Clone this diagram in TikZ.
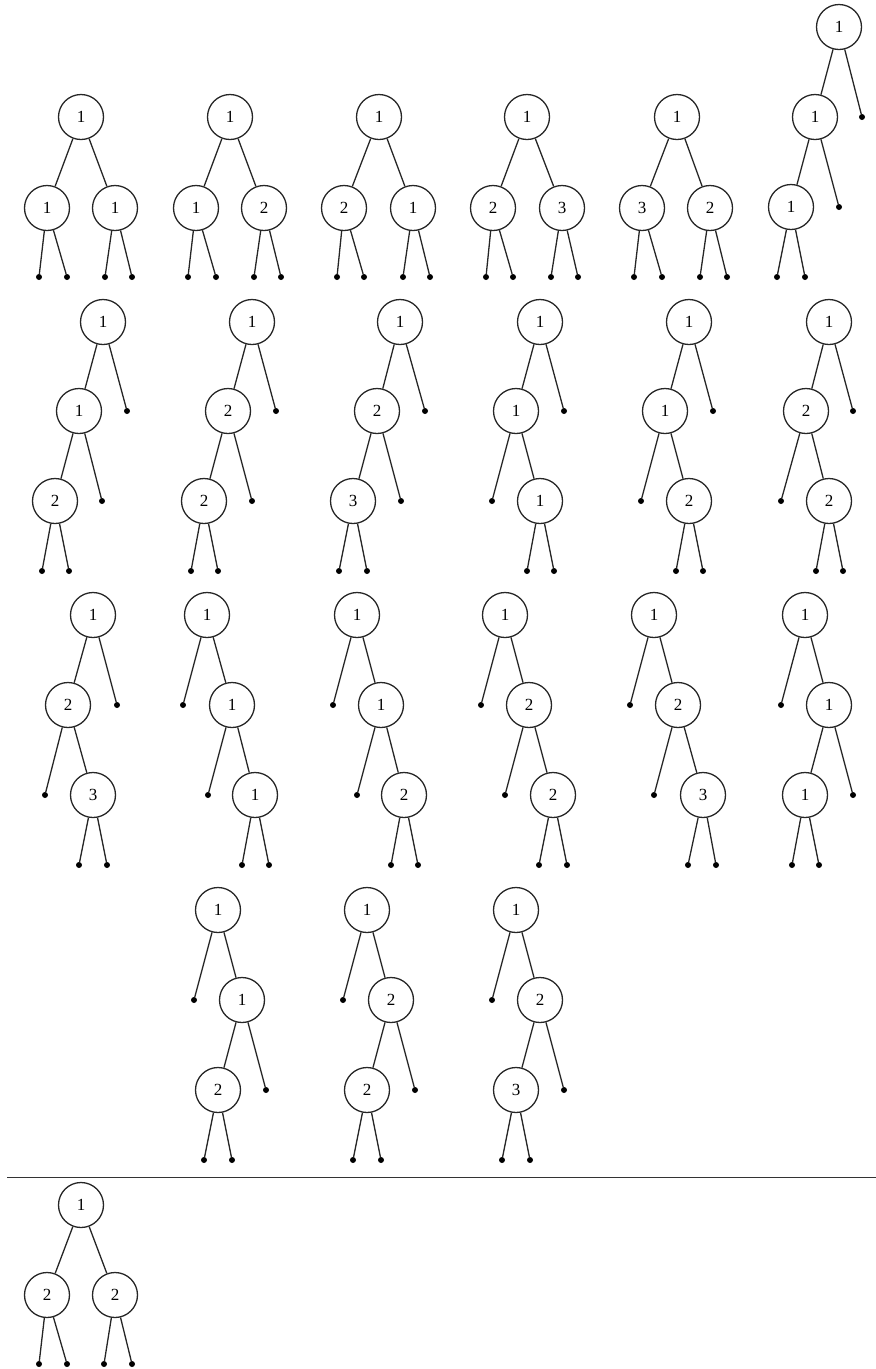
\documentclass[tikz,border=0pt]{standalone}
\usepackage{fontspec}
\setmainfont{Liberation Serif}
\begin{document}
\begin{tikzpicture}[x=1pt,y=-1pt,
  nd/.style={circle,draw=black!85,line width=1.3pt,minimum size=45pt,inner sep=0pt,font=\fontsize{17}{19}\selectfont},
  lf/.style={circle,fill=black,inner sep=0pt,minimum size=6pt},
  ed/.style={line width=1.3pt,draw=black!85}]
\useasboundingbox (0,0) rectangle (876,1369);
% ---------- Row 1 ----------
% tree 1
\node[nd] (t1r) at (81,117) {1};
\node[nd] (t1a) at (47,208) {1};
\node[nd] (t1b) at (115,208) {1};
\node[lf] (t1p) at (39,277) {};
\node[lf] (t1q) at (67,277) {};
\node[lf] (t1s) at (105,277) {};
\node[lf] (t1t) at (132,277) {};
\draw[ed] (t1r)--(t1a) (t1r)--(t1b) (t1a)--(t1p) (t1a)--(t1q) (t1b)--(t1s) (t1b)--(t1t);
% tree 2
\node[nd] (t2r) at (230,117) {1};
\node[nd] (t2a) at (196,208) {1};
\node[nd] (t2b) at (264,208) {2};
\node[lf] (t2p) at (188,277) {};
\node[lf] (t2q) at (216,277) {};
\node[lf] (t2s) at (254,277) {};
\node[lf] (t2t) at (281,277) {};
\draw[ed] (t2r)--(t2a) (t2r)--(t2b) (t2a)--(t2p) (t2a)--(t2q) (t2b)--(t2s) (t2b)--(t2t);
% tree 3
\node[nd] (t3r) at (379,117) {1};
\node[nd] (t3a) at (344,208) {2};
\node[nd] (t3b) at (413,208) {1};
\node[lf] (t3p) at (337,277) {};
\node[lf] (t3q) at (364,277) {};
\node[lf] (t3s) at (403,277) {};
\node[lf] (t3t) at (430,277) {};
\draw[ed] (t3r)--(t3a) (t3r)--(t3b) (t3a)--(t3p) (t3a)--(t3q) (t3b)--(t3s) (t3b)--(t3t);
% tree 4
\node[nd] (t4r) at (527,117) {1};
\node[nd] (t4a) at (493,208) {2};
\node[nd] (t4b) at (562,208) {3};
\node[lf] (t4p) at (486,277) {};
\node[lf] (t4q) at (513,277) {};
\node[lf] (t4s) at (551,277) {};
\node[lf] (t4t) at (578,277) {};
\draw[ed] (t4r)--(t4a) (t4r)--(t4b) (t4a)--(t4p) (t4a)--(t4q) (t4b)--(t4s) (t4b)--(t4t);
% tree 5
\node[nd] (t5r) at (677,117) {1};
\node[nd] (t5a) at (642,208) {3};
\node[nd] (t5b) at (710,208) {2};
\node[lf] (t5p) at (634,277) {};
\node[lf] (t5q) at (662,277) {};
\node[lf] (t5s) at (700,277) {};
\node[lf] (t5t) at (727,277) {};
\draw[ed] (t5r)--(t5a) (t5r)--(t5b) (t5a)--(t5p) (t5a)--(t5q) (t5b)--(t5s) (t5b)--(t5t);
% tree 6
\node[nd] (t6r) at (839,27) {1};
\node[nd] (t6a) at (815,117) {1};
\node[lf] (t6la) at (862,117) {};
\node[nd] (t6b) at (791,207) {1};
\node[lf] (t6lb) at (839,207) {};
\node[lf] (t6p) at (777,277) {};
\node[lf] (t6q) at (805,277) {};
\draw[ed] (t6r)--(t6a) (t6r)--(t6la) (t6a)--(t6b) (t6a)--(t6lb) (t6b)--(t6p) (t6b)--(t6q);
% ---------- Row 2 ----------
% tree 7
\node[nd] (t7r) at (103,322) {1};
\node[nd] (t7a) at (79,411) {1};
\node[lf] (t7la) at (127,411) {};
\node[nd] (t7b) at (55,501) {2};
\node[lf] (t7lb) at (102,501) {};
\node[lf] (t7p) at (42,571) {};
\node[lf] (t7q) at (69,571) {};
\draw[ed] (t7r)--(t7a) (t7r)--(t7la) (t7a)--(t7b) (t7a)--(t7lb) (t7b)--(t7p) (t7b)--(t7q);
% tree 8
\node[nd] (t8r) at (252,322) {1};
\node[nd] (t8a) at (228,411) {2};
\node[lf] (t8la) at (276,411) {};
\node[nd] (t8b) at (204,501) {2};
\node[lf] (t8lb) at (252,501) {};
\node[lf] (t8p) at (191,571) {};
\node[lf] (t8q) at (218,571) {};
\draw[ed] (t8r)--(t8a) (t8r)--(t8la) (t8a)--(t8b) (t8a)--(t8lb) (t8b)--(t8p) (t8b)--(t8q);
% tree 9
\node[nd] (t9r) at (400,322) {1};
\node[nd] (t9a) at (377,411) {2};
\node[lf] (t9la) at (425,411) {};
\node[nd] (t9b) at (353,501) {3};
\node[lf] (t9lb) at (401,501) {};
\node[lf] (t9p) at (339,571) {};
\node[lf] (t9q) at (367,571) {};
\draw[ed] (t9r)--(t9a) (t9r)--(t9la) (t9a)--(t9b) (t9a)--(t9lb) (t9b)--(t9p) (t9b)--(t9q);
% tree 10
\node[nd] (t10r) at (540,322) {1};
\node[nd] (t10a) at (516,411) {1};
\node[lf] (t10la) at (564,411) {};
\node[lf] (t10lb) at (492,501) {};
\node[nd] (t10b) at (540,501) {1};
\node[lf] (t10p) at (527,571) {};
\node[lf] (t10q) at (554,571) {};
\draw[ed] (t10r)--(t10a) (t10r)--(t10la) (t10a)--(t10lb) (t10a)--(t10b) (t10b)--(t10p) (t10b)--(t10q);
% tree 11
\node[nd] (t11r) at (689,322) {1};
\node[nd] (t11a) at (665,411) {1};
\node[lf] (t11la) at (713,411) {};
\node[lf] (t11lb) at (641,501) {};
\node[nd] (t11b) at (689,501) {2};
\node[lf] (t11p) at (676,571) {};
\node[lf] (t11q) at (703,571) {};
\draw[ed] (t11r)--(t11a) (t11r)--(t11la) (t11a)--(t11lb) (t11a)--(t11b) (t11b)--(t11p) (t11b)--(t11q);
% tree 12
\node[nd] (t12r) at (829,322) {1};
\node[nd] (t12a) at (806,411) {2};
\node[lf] (t12la) at (853,411) {};
\node[lf] (t12lb) at (781,501) {};
\node[nd] (t12b) at (829,501) {2};
\node[lf] (t12p) at (816,571) {};
\node[lf] (t12q) at (843,571) {};
\draw[ed] (t12r)--(t12a) (t12r)--(t12la) (t12a)--(t12lb) (t12a)--(t12b) (t12b)--(t12p) (t12b)--(t12q);
% ---------- Row 3 ----------
% tree 13
\node[nd] (t13r) at (93,615) {1};
\node[nd] (t13a) at (68,705) {2};
\node[lf] (t13la) at (117,705) {};
\node[lf] (t13lb) at (45,795) {};
\node[nd] (t13b) at (93,795) {3};
\node[lf] (t13p) at (79,865) {};
\node[lf] (t13q) at (107,865) {};
\draw[ed] (t13r)--(t13a) (t13r)--(t13la) (t13a)--(t13lb) (t13a)--(t13b) (t13b)--(t13p) (t13b)--(t13q);
% tree 14
\node[nd] (t14r) at (207,615) {1};
\node[lf] (t14la) at (183,705) {};
\node[nd] (t14a) at (232,705) {1};
\node[lf] (t14lb) at (208,795) {};
\node[nd] (t14b) at (255,795) {1};
\node[lf] (t14p) at (242,865) {};
\node[lf] (t14q) at (269,865) {};
\draw[ed] (t14r)--(t14la) (t14r)--(t14a) (t14a)--(t14lb) (t14a)--(t14b) (t14b)--(t14p) (t14b)--(t14q);
% tree 15
\node[nd] (t15r) at (357,615) {1};
\node[lf] (t15la) at (333,705) {};
\node[nd] (t15a) at (381,705) {1};
\node[lf] (t15lb) at (357,795) {};
\node[nd] (t15b) at (404,795) {2};
\node[lf] (t15p) at (391,865) {};
\node[lf] (t15q) at (418,865) {};
\draw[ed] (t15r)--(t15la) (t15r)--(t15a) (t15a)--(t15lb) (t15a)--(t15b) (t15b)--(t15p) (t15b)--(t15q);
% tree 16
\node[nd] (t16r) at (505,615) {1};
\node[lf] (t16la) at (481,705) {};
\node[nd] (t16a) at (529,705) {2};
\node[lf] (t16lb) at (505,795) {};
\node[nd] (t16b) at (553,795) {2};
\node[lf] (t16p) at (539,865) {};
\node[lf] (t16q) at (567,865) {};
\draw[ed] (t16r)--(t16la) (t16r)--(t16a) (t16a)--(t16lb) (t16a)--(t16b) (t16b)--(t16p) (t16b)--(t16q);
% tree 17
\node[nd] (t17r) at (654,615) {1};
\node[lf] (t17la) at (630,705) {};
\node[nd] (t17a) at (678,705) {2};
\node[lf] (t17lb) at (654,795) {};
\node[nd] (t17b) at (703,795) {3};
\node[lf] (t17p) at (688,865) {};
\node[lf] (t17q) at (716,865) {};
\draw[ed] (t17r)--(t17la) (t17r)--(t17a) (t17a)--(t17lb) (t17a)--(t17b) (t17b)--(t17p) (t17b)--(t17q);
% tree 18
\node[nd] (t18r) at (805,615) {1};
\node[lf] (t18la) at (781,705) {};
\node[nd] (t18a) at (829,705) {1};
\node[nd] (t18b) at (805,795) {1};
\node[lf] (t18lb) at (853,795) {};
\node[lf] (t18p) at (792,865) {};
\node[lf] (t18q) at (819,865) {};
\draw[ed] (t18r)--(t18la) (t18r)--(t18a) (t18a)--(t18b) (t18a)--(t18lb) (t18b)--(t18p) (t18b)--(t18q);
% ---------- Row 4 ----------
% tree 19
\node[nd] (t19r) at (218,910) {1};
\node[lf] (t19la) at (194,1000) {};
\node[nd] (t19a) at (242,1000) {1};
\node[nd] (t19b) at (218,1090) {2};
\node[lf] (t19lb) at (266,1090) {};
\node[lf] (t19p) at (204,1160) {};
\node[lf] (t19q) at (232,1160) {};
\draw[ed] (t19r)--(t19la) (t19r)--(t19a) (t19a)--(t19b) (t19a)--(t19lb) (t19b)--(t19p) (t19b)--(t19q);
% tree 20
\node[nd] (t20r) at (367,910) {1};
\node[lf] (t20la) at (343,1000) {};
\node[nd] (t20a) at (391,1000) {2};
\node[nd] (t20b) at (367,1090) {2};
\node[lf] (t20lb) at (415,1090) {};
\node[lf] (t20p) at (353,1160) {};
\node[lf] (t20q) at (381,1160) {};
\draw[ed] (t20r)--(t20la) (t20r)--(t20a) (t20a)--(t20b) (t20a)--(t20lb) (t20b)--(t20p) (t20b)--(t20q);
% tree 21
\node[nd] (t21r) at (516,910) {1};
\node[lf] (t21la) at (492,1000) {};
\node[nd] (t21a) at (540,1000) {2};
\node[nd] (t21b) at (516,1090) {3};
\node[lf] (t21lb) at (564,1090) {};
\node[lf] (t21p) at (502,1160) {};
\node[lf] (t21q) at (530,1160) {};
\draw[ed] (t21r)--(t21la) (t21r)--(t21a) (t21a)--(t21b) (t21a)--(t21lb) (t21b)--(t21p) (t21b)--(t21q);
% ---------- separator ----------
\coordinate (hl1) at (7,1177);
\coordinate (hl2) at (876,1177);
\draw[line width=1pt,draw=black!80] (hl1)--(hl2);
% ---------- Row 5 ----------
\node[nd] (t22r) at (81,1205) {1};
\node[nd] (t22a) at (47,1295) {2};
\node[nd] (t22b) at (115,1295) {2};
\node[lf] (t22p) at (39,1364) {};
\node[lf] (t22q) at (67,1364) {};
\node[lf] (t22s) at (104,1364) {};
\node[lf] (t22t) at (132,1364) {};
\draw[ed] (t22r)--(t22a) (t22r)--(t22b) (t22a)--(t22p) (t22a)--(t22q) (t22b)--(t22s) (t22b)--(t22t);
\end{tikzpicture}
\end{document}
